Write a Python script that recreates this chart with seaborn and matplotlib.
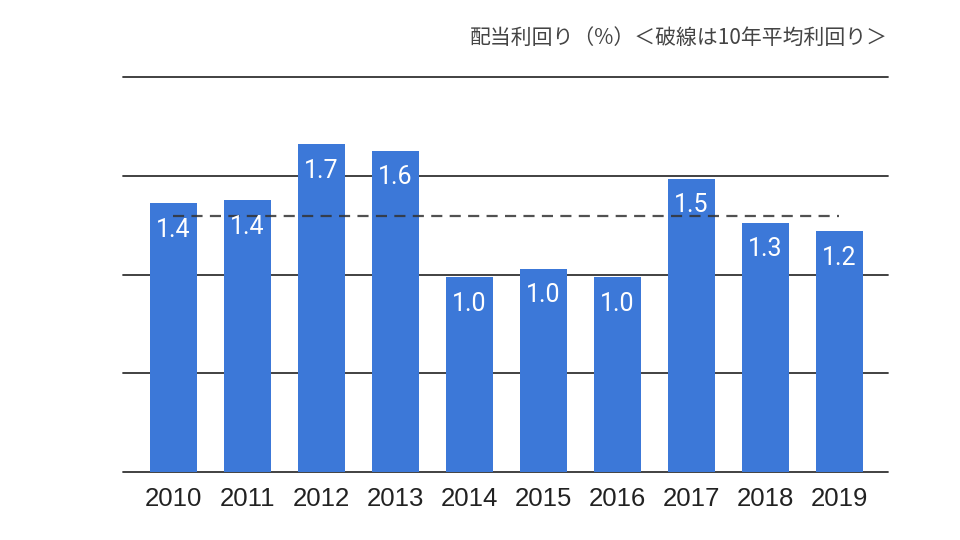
import numpy as np
import pandas as pd
import matplotlib
matplotlib.use('Agg')
import matplotlib.pyplot as plt
import seaborn as sns

# 配当利回り (%)
years = ['2010', '2011', '2012', '2013', '2014', '2015', '2016', '2017', '2018', '2019']
yields = [1.36, 1.376, 1.659, 1.627, 0.985, 1.029, 0.985, 1.485, 1.261, 1.218]
title = '配当利回り（%）＜破線は10年平均利回り＞'

BAR_COLOR = '#3c78d8'

df = pd.DataFrame({'year': years, 'value': yields})
avg = df['value'].mean()  # 10年平均

sns.set_theme(style='white')
plt.rcParams['font.family'] = ['Liberation Sans', 'DejaVu Sans']

fig = plt.figure(figsize=(9.6, 5.4), dpi=100)
ax = fig.add_axes([123 / 960, 1 - 472 / 540, (888 - 123) / 960, 395 / 540])

# グリッド線
ax.set_ylim(0, 2.0)
ax.set_yticks(np.arange(0, 2.01, 0.5))
ax.yaxis.grid(True, color='#333333', linewidth=1.3, zorder=0)
ax.set_axisbelow(True)

sns.barplot(data=df, x='year', y='value', color=BAR_COLOR, saturation=1,
            width=0.635, linewidth=0, ax=ax, zorder=2)

# 平均の破線
ax.plot(np.arange(len(years)), np.full(len(years), avg), color='#333333',
        alpha=0.85, linewidth=1.6, dashes=(5, 3.3), zorder=3)

# 値ラベル
for i, v in enumerate(yields):
    ax.annotate(f'{v:.1f}', xy=(i, v), xytext=(0, -24), textcoords='offset points',
                ha='center', va='baseline', color='white', fontsize=18,
                family=['Roboto', 'DejaVu Sans'], zorder=4)

ax.set_xlim(-0.676, 9.66)
ax.set_xlabel('')
ax.set_ylabel('')
ax.set_yticklabels([])
ax.tick_params(axis='y', length=0)
ax.tick_params(axis='x', length=0, pad=10.5, labelsize=18.5, labelcolor='#222222')
for s in ax.spines.values():
    s.set_visible(False)
# 上下の線が切れないように
for gl in ax.get_ygridlines():
    gl.set_clip_on(False)

fig.text(888 / 960, 1 - 44 / 540, title, ha='right', va='baseline',
         fontsize=15, color='#444444',
         family=['Noto Sans CJK JP', 'DejaVu Sans'])

fig.savefig('out.png', dpi=100, facecolor='white')
